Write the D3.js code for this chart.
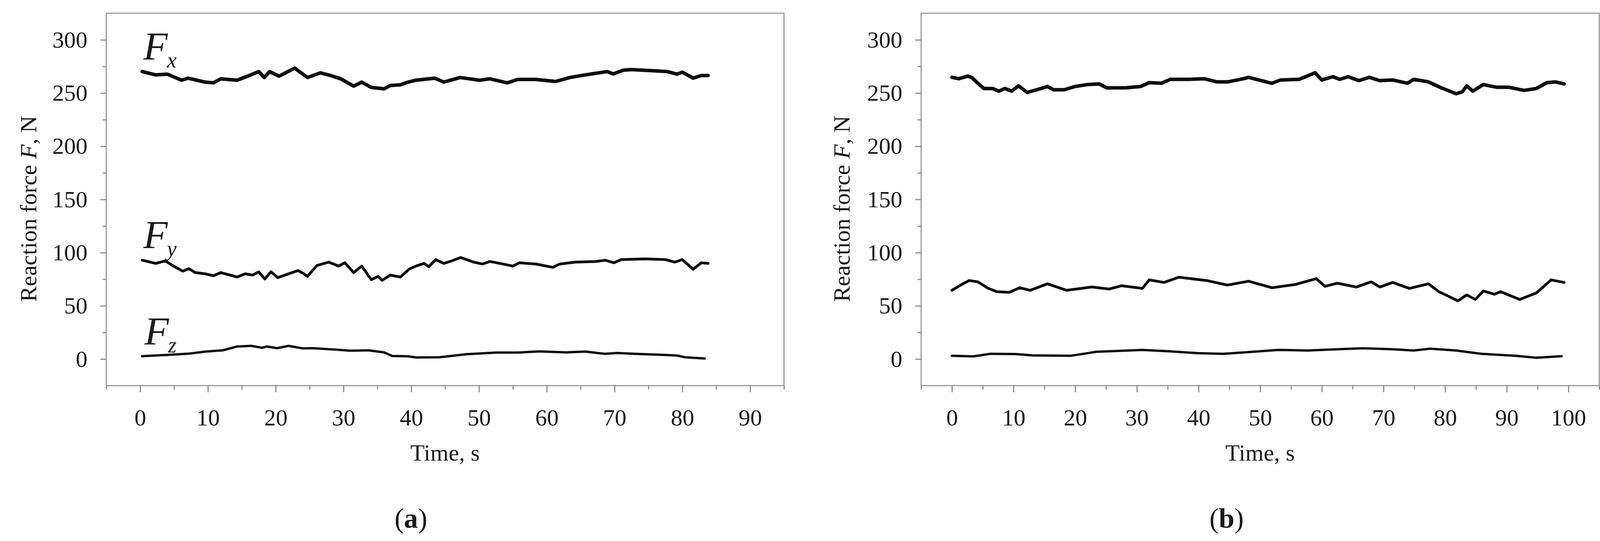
<!DOCTYPE html>
<html lang="en">
<head>
  <meta charset="UTF-8">
  <title>Reaction force vs time</title>
  <script src="https://d3js.org/d3.v7.min.js"></script>
  <style>
    body { margin: 0; background: #fff; }
    svg { display: block; }
    .axis text { font-family: "Liberation Serif", "Times New Roman", serif; font-size: 60px; fill: #1a1a1a; }
    .axis path, .axis line { stroke: #8c8c8c; stroke-width: 3px; }
    .label { font-family: "Liberation Serif", "Times New Roman", serif; fill: #1a1a1a; }
  </style>
</head>
<body>
  <svg id="chart" width="4124" height="1386"></svg>

  <script>
    // tick values
    const yMajor = [0, 50, 100, 150, 200, 250, 300];
    const yMinor = [25, 75, 125, 175, 225, 275];
    const xMajorA = [0, 10, 20, 30, 40, 50, 60, 70, 80, 90];
    const xMinorA = [-5, 5, 15, 25, 35, 45, 55, 65, 75, 85, 95];
    const xMajorB = [0, 10, 20, 30, 40, 50, 60, 70, 80, 90, 100];
    const xMinorB = [-5, 5, 15, 25, 35, 45, 55, 65, 75, 85, 95, 105];

    // panel (a) readings: [time s, force N]
    const aFx = [[0.3,270.2],[2.3,267.1],[4.0,267.8],[6.1,262.1],[7.1,264.0],[9.6,260.3],[10.8,259.6],[11.9,263.4],[14.3,262.1],[16.1,266.5],[17.5,270.2],[18.3,264.6],[19.1,270.2],[20.5,265.9],[22.8,273.4],[24.7,264.6],[26.6,269.0],[28.1,266.5],[29.6,263.4],[31.5,256.5],[32.7,260.3],[34.1,255.3],[36.0,254.0],[36.9,257.1],[38.4,257.8],[39.5,260.2],[40.7,262.1],[43.5,264.0],[44.8,260.3],[47.2,264.6],[50.1,262.1],[51.6,263.4],[54.2,259.6],[55.7,262.8],[58.4,262.8],[61.3,260.9],[63.4,264.6],[65.7,267.1],[68.9,270.2],[69.8,268.0],[71.3,271.5],[72.5,272.1],[76.0,270.9],[77.8,270.2],[79.2,267.8],[80.0,269.6],[81.6,264.0],[82.8,266.5],[83.8,266.5]];
    const aFy = [[0.3,92.9],[2.3,89.9],[3.7,92.3],[4.9,87.4],[6.3,82.6],[7.2,85.0],[8.1,81.3],[9.6,80.1],[10.8,78.3],[11.9,81.3],[14.3,77.1],[15.5,80.1],[16.6,78.9],[17.5,82.0],[18.4,75.2],[19.3,82.0],[20.3,76.5],[21.9,80.1],[23.3,83.2],[24.0,80.7],[24.7,77.7],[26.1,88.0],[27.8,91.1],[29.3,87.4],[30.2,90.5],[31.5,81.3],[32.7,87.4],[34.1,74.6],[35.1,77.7],[35.7,74.0],[36.9,78.9],[38.4,77.1],[39.0,80.5],[39.7,84.5],[40.7,87.4],[41.9,89.9],[42.6,86.8],[43.6,93.5],[44.8,89.9],[46.0,92.3],[47.3,95.4],[49.2,91.1],[50.5,89.3],[51.6,91.7],[53.1,89.9],[55.0,87.4],[56.0,90.5],[58.4,89.3],[60.9,86.2],[61.9,89.3],[64.2,91.1],[67.2,91.7],[68.6,92.9],[69.9,90.5],[71.0,93.5],[74.5,94.1],[77.5,93.5],[78.9,91.1],[80.0,93.5],[81.6,84.4],[82.8,90.5],[83.8,89.9]];
    const aFz = [[0.3,2.7],[4.0,3.9],[7.2,5.1],[9.6,7.0],[12.2,8.2],[14.3,11.8],[16.4,12.4],[18.0,10.6],[18.7,11.8],[20.2,10.2],[21.9,12.4],[24.0,10.0],[25.5,10.2],[27.5,9.4],[29.0,8.8],[31.0,7.8],[33.7,8.2],[36.0,6.3],[37.2,2.9],[39.5,2.6],[40.7,1.5],[44.2,1.7],[48.1,4.5],[52.5,6.1],[55.7,6.1],[58.9,7.2],[62.8,6.3],[65.7,7.0],[68.6,4.9],[70.4,5.7],[73.0,4.9],[76.6,4.1],[79.2,3.3],[80.4,1.7],[83.3,0.5]];

    // panel (b) readings
    const bFx = [[0.0,264.8],[1.1,263.5],[2.6,266.0],[3.3,264.2],[4.2,259.2],[5.2,254.3],[6.6,254.3],[7.6,251.8],[8.6,254.3],[9.7,251.8],[10.8,256.8],[12.2,250.6],[14.1,253.7],[15.5,256.2],[16.5,253.1],[18.2,253.1],[20.0,256.2],[22.0,258.0],[23.9,258.6],[25.1,254.9],[28.2,254.9],[30.6,256.2],[32.0,259.8],[34.0,259.2],[35.4,262.9],[38.5,262.9],[40.9,263.5],[43.0,260.5],[44.7,260.5],[47.3,263.5],[48.1,264.8],[51.9,259.2],[53.3,262.3],[56.3,262.9],[57.4,265.4],[58.9,269.1],[60.0,262.3],[61.8,265.4],[62.9,262.9],[64.3,265.4],[66.0,261.7],[67.7,264.8],[69.4,261.7],[71.5,262.3],[73.9,259.2],[74.9,262.9],[77.3,260.5],[79.4,254.9],[81.8,249.4],[82.8,251.2],[83.5,256.8],[84.5,251.8],[86.2,258.0],[88.3,255.5],[90.3,255.5],[92.8,252.5],[94.8,254.3],[96.5,259.8],[97.9,260.5],[99.3,258.6]];
    const bFy = [[0.0,64.6],[1.4,69.5],[2.8,73.8],[4.2,72.6],[5.9,66.4],[7.3,63.3],[9.3,62.7],[11.0,67.0],[12.7,64.6],[15.5,70.7],[18.6,64.6],[22.7,67.7],[25.5,65.8],[27.5,68.9],[30.9,66.4],[32.0,74.4],[34.4,72.0],[36.8,76.9],[41.3,73.8],[44.7,69.5],[48.1,73.2],[51.9,67.0],[55.7,70.1],[59.1,75.6],[60.5,68.3],[62.5,71.3],[65.6,67.7],[68.0,72.6],[69.4,67.7],[71.5,72.0],[74.2,66.4],[77.3,70.7],[79.0,63.3],[82.1,54.7],[83.5,60.3],[84.9,56.0],[86.2,64.0],[88.0,60.9],[89.0,63.3],[92.1,56.0],[94.8,62.1],[97.2,74.4],[99.3,72.0]];
    const bFz = [[0.0,3.1],[3.5,2.5],[6.2,4.9],[10.3,4.7],[13.1,3.4],[19.3,3.1],[23.4,6.8],[30.9,8.6],[35.0,7.4],[39.9,5.5],[44.0,4.9],[48.8,6.8],[52.9,8.6],[57.7,8.0],[62.5,9.2],[66.7,10.1],[71.5,9.2],[74.9,8.0],[77.6,9.8],[81.8,8.0],[85.9,4.9],[91.4,3.1],[94.8,1.2],[98.9,2.7]];

    const svg = d3.select("#chart");
    const y = d3.scaleLinear().domain([-25, 325]).range([988, 34]);

    const panels = [
      { x: d3.scaleLinear().domain([-5, 95]).range([272, 2007]), major: xMajorA, minor: xMinorA,
        series: [aFx, aFy, aFz], widths: [9, 7, 6], ttlX: 93, tag: "a", tagX: 1052, names: true },
      { x: d3.scaleLinear().domain([-5, 105]).range([2358, 4094]), major: xMajorB, minor: xMinorB,
        series: [bFx, bFy, bFz], widths: [9, 7, 6], ttlX: 2175, tag: "b", tagX: 3140, names: false }
    ];

    panels.forEach(p => {
      const g = svg.append("g");
      const [x0, x1] = p.x.range();

      // frame
      g.append("rect")
        .attr("x", x0).attr("y", 34)
        .attr("width", x1 - x0).attr("height", 988 - 34)
        .attr("fill", "none").attr("stroke", "#9a9a9a").attr("stroke-width", 3);

      // y axis
      g.append("g").attr("class", "axis").attr("transform", `translate(${x0},0)`)
        .call(d3.axisLeft(y).tickValues(yMajor).tickSize(15).tickPadding(33).tickFormat(d3.format("d")))
        .call(s => s.select(".domain").remove());
      g.append("g").attr("class", "axis").attr("transform", `translate(${x0},0)`)
        .call(d3.axisLeft(y).tickValues(yMinor).tickSize(9).tickFormat(""))
        .call(s => s.select(".domain").remove());

      // x axis
      g.append("g").attr("class", "axis").attr("transform", "translate(0,988)")
        .call(d3.axisBottom(p.x).tickValues(p.major).tickSize(17).tickPadding(42).tickFormat(d3.format("d")))
        .call(s => s.select(".domain").remove());
      g.append("g").attr("class", "axis").attr("transform", "translate(0,988)")
        .call(d3.axisBottom(p.x).tickValues(p.minor).tickSize(10).tickFormat(""))
        .call(s => s.select(".domain").remove());

      // lines
      const line = d3.line().x(d => p.x(d[0])).y(d => y(d[1]));
      p.series.forEach((s, i) => {
        g.append("path").datum(s)
          .attr("d", line)
          .attr("fill", "none")
          .attr("stroke", "#0d0d0d")
          .attr("stroke-width", p.widths[i])
          .attr("stroke-linejoin", "round")
          .attr("stroke-linecap", "round");
      });

      // axis titles
      const yt = g.append("text").attr("class", "label")
        .attr("transform", `translate(${p.ttlX},535) rotate(-90)`)
        .attr("text-anchor", "middle").attr("font-size", 60);
      yt.append("tspan").text("Reaction force ");
      yt.append("tspan").attr("font-style", "italic").text("F");
      yt.append("tspan").text(", N");

      g.append("text").attr("class", "label")
        .attr("x", (x0 + x1) / 2).attr("y", 1180)
        .attr("text-anchor", "middle").attr("font-size", 60)
        .text("Time, s");

      const tg = g.append("text").attr("class", "label")
        .attr("x", p.tagX).attr("y", 1352)
        .attr("text-anchor", "middle").attr("font-size", 72);
      tg.append("tspan").text("(");
      tg.append("tspan").attr("font-weight", "bold").text(p.tag);
      tg.append("tspan").text(")");

      // series names
      if (p.names) {
        const names = [["x", 153, 367], ["y", 636, 367], ["z", 883, 370]];
        names.forEach(([sub, by, bx]) => {
          const t = g.append("text").attr("class", "label")
            .attr("x", bx).attr("y", by).attr("font-style", "italic");
          t.append("tspan").attr("font-size", 102).text("F");
          t.append("tspan").attr("font-size", 56).attr("dy", 20).attr("dx", -2).text(sub);
        });
      }
    });
  </script>
</body>
</html>
